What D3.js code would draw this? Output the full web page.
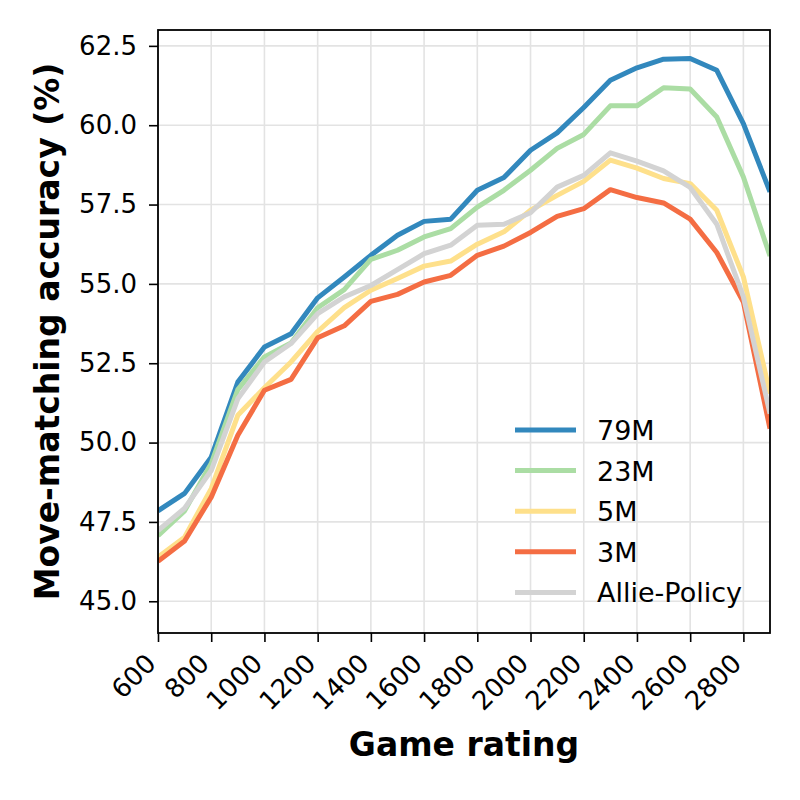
<!doctype html>
<html lang="">
<head>
  <meta charset="utf-8">
  <title>Move-matching accuracy</title>
  <script src="https://d3js.org/d3.v7.min.js"></script>
</head>
<body>
<style media="screen">
  body {
    margin: 0;
    background: #fff;
  }
  text {
    font-family: "DejaVu Sans", sans-serif;
  }
</style>
<div id="my_dataviz"></div>
<script>
    // data
    var ratings = [600, 700, 800, 900, 1000, 1100, 1200, 1300, 1400, 1500, 1600, 1700,
                   1800, 1900, 2000, 2100, 2200, 2300, 2400, 2500, 2600, 2700, 2800, 2900];
    var acc79M = [47.85, 48.40, 49.54, 51.91, 53.01, 53.43, 54.56, 55.22, 55.90, 56.53, 56.97, 57.04,
                  57.95, 58.35, 59.21, 59.76, 60.56, 61.42, 61.81, 62.08, 62.10, 61.73, 60.05, 57.90];
    var acc23M = [47.07, 47.85, 49.34, 51.67, 52.70, 53.14, 54.25, 54.82, 55.77, 56.06, 56.48, 56.74,
                  57.42, 57.95, 58.58, 59.27, 59.71, 60.61, 60.61, 61.18, 61.14, 60.26, 58.37, 55.88];
    var acc5M = [46.39, 47.02, 48.55, 50.86, 51.73, 52.54, 53.50, 54.25, 54.80, 55.17, 55.56, 55.72,
                 56.25, 56.64, 57.32, 57.79, 58.23, 58.90, 58.65, 58.32, 58.16, 57.32, 55.22, 51.54];
    var acc3M = [46.26, 46.90, 48.28, 50.23, 51.65, 51.99, 53.30, 53.68, 54.45, 54.67, 55.06, 55.27,
                 55.90, 56.19, 56.62, 57.13, 57.37, 57.97, 57.72, 57.55, 57.04, 55.99, 54.43, 50.44];
    var accAllie = [47.23, 47.93, 49.12, 51.38, 52.54, 53.12, 54.06, 54.59, 54.95, 55.45, 55.95, 56.22,
                    56.85, 56.88, 57.24, 58.05, 58.42, 59.13, 58.87, 58.56, 58.04, 56.88, 54.59, 50.91];

    var seriesNames = ["79M", "23M", "5M", "3M", "Allie-Policy"];
    var xTicks = [600, 800, 1000, 1200, 1400, 1600, 1800, 2000, 2200, 2400, 2600, 2800];
    var yTicks = [45.0, 47.5, 50.0, 52.5, 55.0, 57.5, 60.0, 62.5];

    var series = [acc79M, acc23M, acc5M, acc3M, accAllie];
    var colors = ["#3288bd", "#abdda4", "#fee08b", "#f46d43", "#d3d3d3"];

    // set the dimensions and margins of the graph
    var margin = {top: 30, right: 30, bottom: 167, left: 158},
        width = 800 - margin.left - margin.right,
        height = 800 - margin.top - margin.bottom;

    var svg = d3.select("#my_dataviz")
        .append("svg")
        .attr("width", 800)
        .attr("height", 800)
        .append("g")
        .attr("transform", "translate(" + margin.left + "," + margin.top + ")");

    var x = d3.scaleLinear()
        .domain([600, 2900])
        .range([0, width]);

    var y = d3.scaleLinear()
        .domain([44.0, 63.0])
        .range([height, 0]);

    // grid
    svg.append("g")
        .selectAll("line")
        .data(xTicks)
        .enter()
        .append("line")
        .attr("x1", function (d) { return x(d); })
        .attr("x2", function (d) { return x(d); })
        .attr("y1", 0)
        .attr("y2", height)
        .style("stroke", "#e3e3e3")
        .style("stroke-width", 1.6);
    svg.append("g")
        .selectAll("line")
        .data(yTicks)
        .enter()
        .append("line")
        .attr("x1", 0)
        .attr("x2", width)
        .attr("y1", function (d) { return y(d); })
        .attr("y2", function (d) { return y(d); })
        .style("stroke", "#e3e3e3")
        .style("stroke-width", 1.6);

    // lines
    var line = d3.line()
        .x(function (d, i) { return x(ratings[i]); })
        .y(function (d) { return y(d); });

    svg.append("clipPath").attr("id", "plotclip")
        .append("rect").attr("width", width).attr("height", height);

    svg.append("g")
        .attr("clip-path", "url(#plotclip)")
        .selectAll("path")
        .data(series)
        .enter()
        .append("path")
        .attr("d", line)
        .style("fill", "none")
        .style("stroke", function (d, i) { return colors[i]; })
        .style("stroke-width", 5)
        .style("stroke-linejoin", "round");

    // X axis
    var xAxis = svg.append("g")
        .attr("transform", "translate(0," + height + ")")
        .call(d3.axisBottom(x).tickValues(xTicks).tickFormat(d3.format("d")).tickSizeOuter(0).tickSize(9));
    xAxis.selectAll("text")
        .style("font-size", "26px")
        .style("text-anchor", "end")
        .attr("dy", null)
        .attr("y", null)
        .attr("transform", "translate(-1,32) rotate(-45)");

    // Y axis
    var yAxis = svg.append("g")
        .call(d3.axisLeft(y).tickValues(yTicks).tickFormat(d3.format(".1f")).tickSizeOuter(0).tickSize(9));
    yAxis.selectAll("text")
        .style("font-size", "26px")
        .attr("x", -21);

    svg.selectAll(".domain").remove();
    svg.selectAll(".tick line").style("stroke", "#000").style("stroke-width", 1.6);
    svg.selectAll(".tick text").style("fill", "#000");

    // frame
    svg.append("rect")
        .attr("width", width)
        .attr("height", height)
        .style("fill", "none")
        .style("stroke", "#000")
        .style("stroke-width", 1.8);

    // axis labels
    svg.append("text")
        .attr("x", width / 2)
        .attr("y", 726)
        .attr("text-anchor", "middle")
        .style("font-size", "33px")
        .style("font-weight", "bold")
        .text("Game rating");

    svg.append("text")
        .attr("transform", "translate(-99," + (height / 2) + ") rotate(-90)")
        .attr("text-anchor", "middle")
        .style("font-size", "33px")
        .style("font-weight", "bold")
        .text("Move-matching accuracy (%)");

    // legend
    var legend = svg.append("g")
        .attr("transform", "translate(357,400)");
    var rows = legend.selectAll("g")
        .data(seriesNames)
        .enter()
        .append("g")
        .attr("transform", function (d, i) { return "translate(0," + (i * 40.6) + ")"; });
    rows.append("line")
        .attr("x1", 0)
        .attr("x2", 61)
        .style("stroke", function (d, i) { return colors[i]; })
        .style("stroke-width", 5);
    rows.append("text")
        .attr("x", 82)
        .attr("y", 10)
        .style("font-size", "27px")
        .text(function (d) { return d; });
</script>
</body>
</html>
